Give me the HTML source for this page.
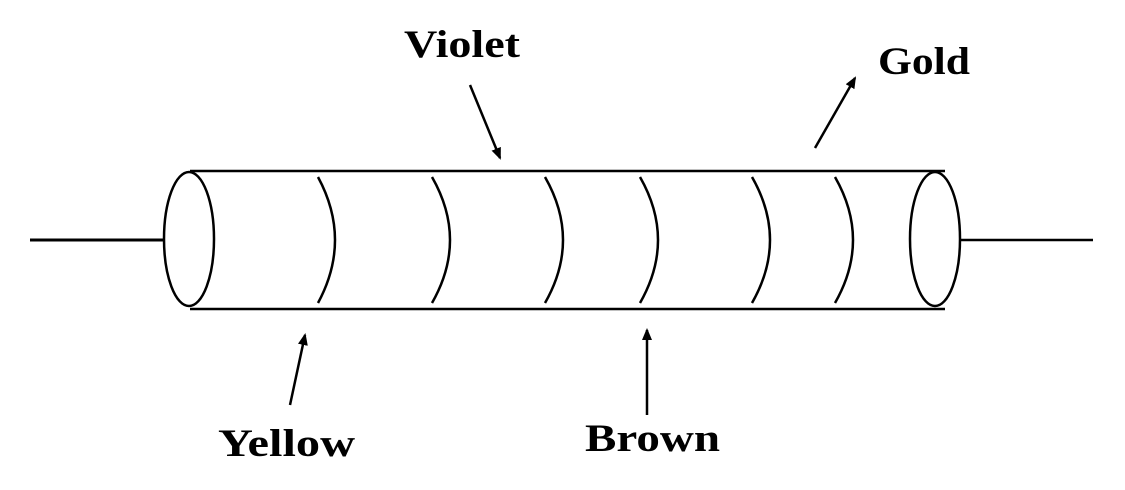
<!DOCTYPE html>
<html><head><style>
html,body{margin:0;padding:0;background:#fff;}
svg{display:block}
text{font-family:"Liberation Serif",serif;font-weight:bold;font-size:39px;fill:#000}
</style></head><body>
<svg width="1125" height="490" viewBox="0 0 1125 490" xmlns="http://www.w3.org/2000/svg">
<defs><marker id="a" markerWidth="12" markerHeight="12" refX="10" refY="6" orient="auto" markerUnits="userSpaceOnUse"><path d="M0,1 L12,6 L0,11 z" fill="#000"/></marker></defs>
<g stroke="#000" stroke-width="2.5" fill="none">
<line x1="30" y1="240" x2="164" y2="240" stroke-width="3"/>
<line x1="960" y1="240" x2="1093" y2="240"/>
<line x1="190" y1="171" x2="945" y2="171"/>
<line x1="190" y1="309" x2="945" y2="309"/>
<ellipse cx="189" cy="239" rx="25" ry="67"/>
<ellipse cx="935" cy="239" rx="25" ry="67"/>
<path d="M318,177 Q352,240 318,303"/>
<path d="M432,177 Q468,240 432,303"/>
<path d="M545,177 Q581,240 545,303"/>
<path d="M640,177 Q676,240 640,303"/>
<path d="M752,177 Q788,240 752,303"/>
<path d="M835,177 Q871,240 835,303"/>
<line x1="470" y1="85" x2="500" y2="158" marker-end="url(#a)"/>
<line x1="815" y1="148" x2="855" y2="78" marker-end="url(#a)"/>
<line x1="290" y1="405" x2="305" y2="335" marker-end="url(#a)"/>
<line x1="647" y1="415" x2="647" y2="330" marker-end="url(#a)"/>
</g>
<text x="404" y="57" textLength="116" lengthAdjust="spacingAndGlyphs">Violet</text>
<text x="878" y="74" textLength="92" lengthAdjust="spacingAndGlyphs">Gold</text>
<text x="218" y="456" textLength="137" lengthAdjust="spacingAndGlyphs">Yellow</text>
<text x="585" y="451" textLength="135" lengthAdjust="spacingAndGlyphs">Brown</text>
</svg>
</body></html>
